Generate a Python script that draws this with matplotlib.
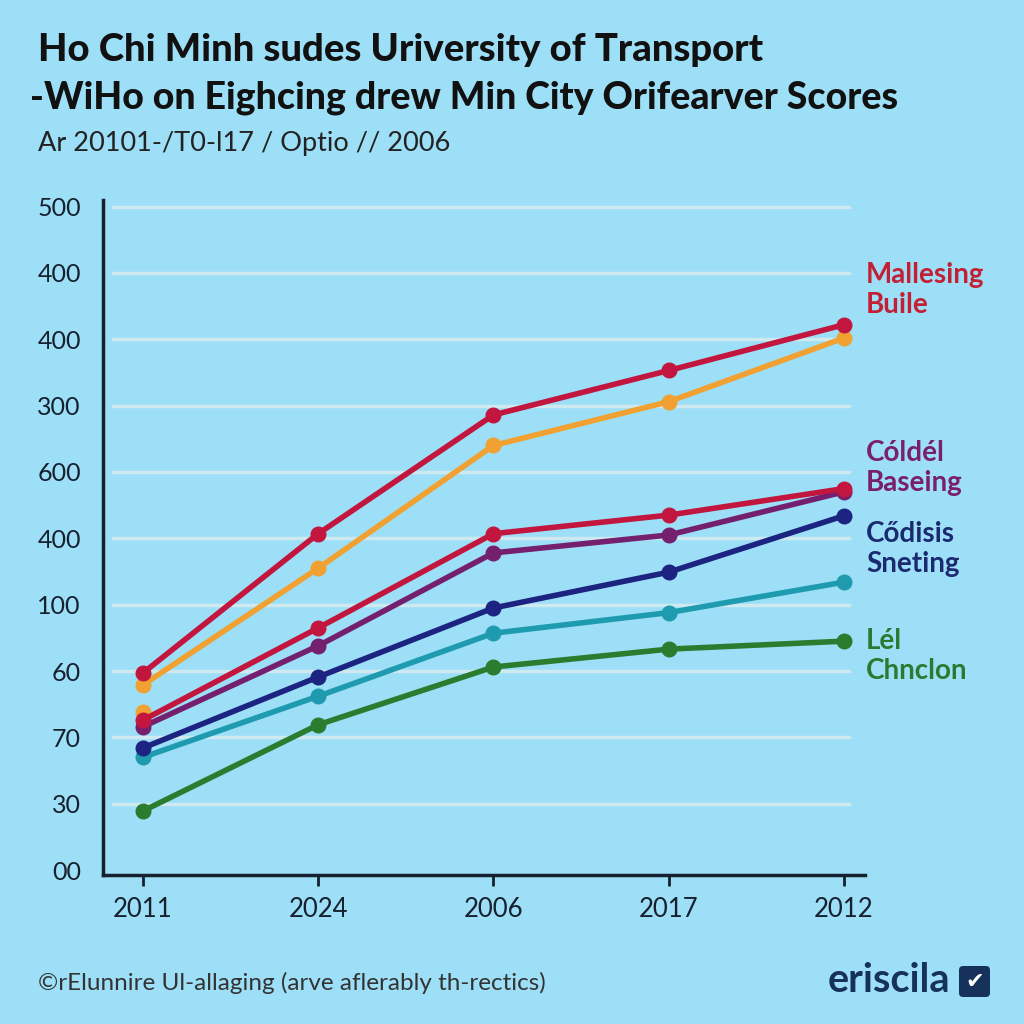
import numpy as np
import matplotlib
matplotlib.use('Agg')
from matplotlib import pyplot as plt
from matplotlib.patches import FancyBboxPatch


years = ['2011', '2024', '2006', '2017', '2012']
ytick_labels = ['00', '30', '70', '60', '100', '400', '600', '300', '400', '400', '500']

# series values (in tick units)
red_top = [2.97, 5.07, 6.86, 7.53, 8.22]
orange = [2.79, 4.55, 6.40, 7.06, 8.02]
orange_dot = [2.38]
red_mid = [2.26, 3.65, 5.07, 5.35, 5.75]
purple = [2.16, 3.38, 4.78, 5.05, 5.70]
navy = [1.84, 2.91, 3.95, 4.49, 5.34]
teal = [1.70, 2.62, 3.57, 3.88, 4.34]
green = [0.89, 2.19, 3.06, 3.33, 3.45]

series = [
    (teal, '#1f9bb0'),
    (green, '#2a7d2e'),
    (navy, '#1c2380'),
    (purple, '#74206f'),
    (red_mid, '#c2163e'),
    (orange, '#f0a132'),
    (red_top, '#c2163e'),
]

labels = [
    ('Mallesing\nBuile', '#c42035'),
    ('Cóldél\nBaseing', '#7a1f6a'),
    ('Cődisis\nSneting', '#1b2a70'),
    ('Lél\nChnclon', '#2a7a30'),
]
label_y = [290, 468, 549, 656]

bg = '#9ddff7'

fig = plt.figure(figsize=(10.24, 10.24), dpi=100, facecolor=bg)
ax = fig.add_axes([103/1024, 1 - 875/1024, 762/1024, 675/1024])
ax.set_facecolor(bg)

x = np.arange(len(years))
ax.plot([0], orange_dot, 'o', color='#f0a132', ms=10.5, zorder=3)
for vals, col in series:
    ax.plot(x, vals, '-o', color=col, lw=4, ms=10.5, zorder=3)

ax.set_xlim(-0.228, 4.12)
ax.set_ylim(-0.075, 10.1)
ax.set_yticks(range(11))
ax.set_yticklabels(ytick_labels)
ax.set_xticks(x)
ax.set_xticklabels(years)
for yy in range(1, 11):
    ax.plot([-0.17, 4.03], [yy, yy], color='#cfe9f1', lw=2.5, zorder=1)

for s in ['top', 'right']:
    ax.spines[s].set_visible(False)
for s in ['left', 'bottom']:
    ax.spines[s].set_color('#16202e')
    ax.spines[s].set_linewidth(2.5)
ax.tick_params(axis='y', length=0, pad=16, labelsize=18, labelcolor='#16202e')
ax.tick_params(axis='x', length=8, width=2, color='#16202e', pad=8,
               labelsize=18.5, labelcolor='#16202e')
for t in ax.get_yticklabels() + ax.get_xticklabels():
    t.set_fontfamily('Lato')

for (txt, col), yy in zip(labels, label_y):
    fig.text(866/1024, 1 - yy/1024, txt, color=col, fontsize=20,
             fontweight='bold', family='Lato', va='center', linespacing=1.15)

fig.text(38/1024, 1 - 50/1024, 'Ho Chi Minh sudes Uriversity of Transport',
         fontsize=27.5, fontweight='black', family='Lato', va='center', color='#111')
fig.text(30/1024, 1 - 98/1024, '-WiHo on Eighcing drew Min City Orifearver Scores',
         fontsize=27, fontweight='black', family='Lato', va='center', color='#111')
fig.text(38/1024, 1 - 143/1024, 'Ar 20101-/T0-l17 / Optio // 2006',
         fontsize=19.5, family='Lato', va='center', color='#222')

fig.text(38/1024, 1 - 983/1024, '©rElunnire Ul-allaging (arve aflerably th-rectics)',
         fontsize=17.5, family='Lato', va='center', color='#333')
fig.text(950/1024, 1 - 981/1024, 'eriscila', fontsize=28.5, fontweight='bold',
         family='Lato', va='center', ha='right', color='#17325a')
box = FancyBboxPatch((959/1024, 1 - 997/1024), 31/1024, 31/1024,
                     boxstyle='round,pad=0,rounding_size=0.004',
                     transform=fig.transFigure, facecolor='#17325a', edgecolor='none')
fig.patches.append(box)
fig.text(974.5/1024, 1 - 981.5/1024, '✔', fontsize=16, color='white', family='DejaVu Sans',
         ha='center', va='center')

fig.savefig('out.png', dpi=100, facecolor=bg)
